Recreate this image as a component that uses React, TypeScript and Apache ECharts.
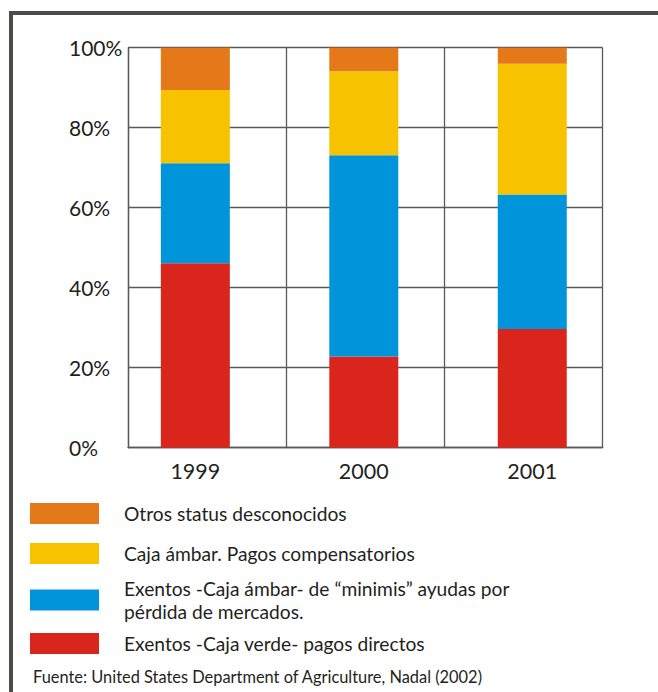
import React, { useEffect, useRef } from "react";
import * as echarts from "echarts";

const years = ["1999", "2000", "2001"];
const seriesNames = [
  "Exentos -Caja verde- pagos directos",
  "Exentos -Caja ámbar- de “minimis” ayudas por pérdida de mercados.",
  "Caja ámbar. Pagos compensatorios",
  "Otros status desconocidos",
];
const verde = [46.1, 22.8, 29.7];
const minimis = [25.0, 50.3, 33.6];
const ambar = [18.3, 21.0, 32.7];
const otros = [10.6, 5.9, 4.0];
const colors = ["#DA251D", "#0094DB", "#F7C300", "#E57818"];
const yTicks = [0, 20, 40, 60, 80, 100];
const source = "Fuente: United States Department of Agriculture, Nadal (2002)";

const FONT = "Lato, 'Open Sans', sans-serif";
const TXT = "#231F20";
const GRID = "#5a5a5a";

export default function App() {
  const ref = useRef<HTMLDivElement>(null);
  useEffect(() => {
    if (!ref.current) return;
    const chart = echarts.init(ref.current, undefined, { renderer: "svg" });
    const values = [verde, minimis, ambar, otros];
    const legendOrder = [3, 2, 1, 0];
    const legendY: Record<number, number> = { 3: 502, 2: 542, 1: 577, 0: 632 };
    chart.setOption({
      animation: false,
      backgroundColor: "#ffffff",
      textStyle: { fontFamily: FONT },
      grid: [
        { left: 128, top: 47.7, width: 474.7, height: 400 },
        { left: 111.1, top: 47.7, width: 505.4, height: 400 },
      ],
      xAxis: [
        {
          type: "value",
          gridIndex: 0,
          min: 0,
          max: 3,
          interval: 1,
          axisLabel: { show: false },
          axisTick: { show: false },
          axisLine: { show: true, lineStyle: { color: GRID, width: 1.3 } },
          splitLine: { show: true, lineStyle: { color: GRID, width: 1.3 } },
        },
        {
          type: "category",
          gridIndex: 1,
          data: years,
          axisLine: { show: false },
          axisTick: { show: false },
          splitLine: { show: false },
          axisLabel: { fontSize: 21.5, color: TXT, margin: 12, fontFamily: FONT },
        },
      ],
      yAxis: [
        {
          type: "value",
          gridIndex: 0,
          min: yTicks[0],
          max: yTicks[yTicks.length - 1],
          interval: 20,
          axisTick: { show: false },
          axisLine: { show: true, lineStyle: { color: GRID, width: 1.3 } },
          splitLine: { show: true, lineStyle: { color: GRID, width: 1.3 } },
          axisLabel: {
            formatter: "{value}%",
            align: "left",
            margin: 59,
            fontSize: 21,
            color: TXT,
            fontFamily: FONT,
          },
        },
        { type: "value", gridIndex: 1, min: 0, max: 100, show: false },
      ],
      legend: legendOrder.map((i) => ({
        data: [seriesNames[i]],
        left: 30,
        top: legendY[i],
        padding: 0,
        itemWidth: 69,
        itemHeight: 21,
        icon: "rect",
        orient: "vertical",
        selectedMode: false,
        formatter: (n: string) =>
          n.replace("ayudas por pérdida", "ayudas por\npérdida"),
        textStyle: {
          fontSize: 19.2,
          color: TXT,
          fontFamily: FONT,
          lineHeight: 23,
          padding: [0, 0, 0, 20],
        },
      })),
      graphic: [
        {
          type: "polyline",
          shape: { points: [[11, 692], [11, 13], [658, 13]] },
          style: { stroke: "#4d4a4a", lineWidth: 4, fill: "none" },
          silent: true,
        },
        {
          type: "text",
          left: 33,
          top: 668,
          style: { text: source, fontSize: 16.4, fill: TXT, fontFamily: FONT },
        },
      ],
      series: values.map((v, i) => ({
        name: seriesNames[i],
        type: "bar",
        stack: "total",
        xAxisIndex: 1,
        yAxisIndex: 1,
        barWidth: 69,
        data: v,
        itemStyle: { color: colors[i] },
      })),
    });
    return () => chart.dispose();
  }, []);
  return (
    <div
      ref={ref}
      style={{ position: "fixed", left: 0, top: 0, width: 658, height: 692 }}
    />
  );
}
